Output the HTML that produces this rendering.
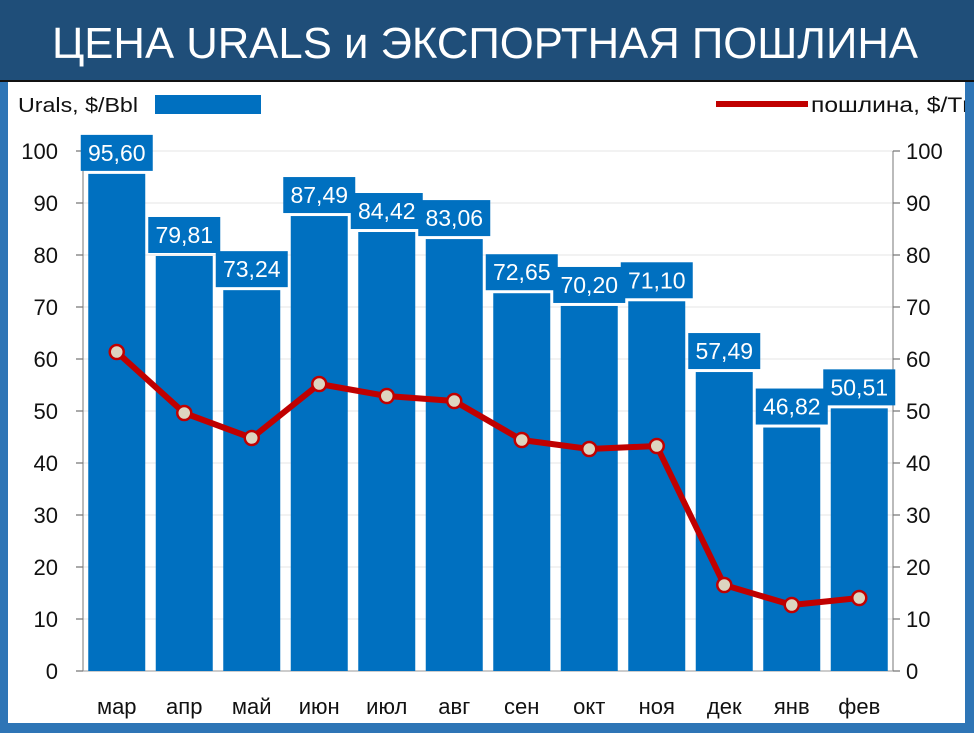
<!DOCTYPE html>
<html><head><meta charset="utf-8"><style>
html,body{margin:0;padding:0;width:974px;height:733px;overflow:hidden;background:#2e75b6}
svg{display:block;font-family:"Liberation Sans","DejaVu Sans",sans-serif}
</style></head><body>
<svg id="c" width="974" height="733" viewBox="0 0 974 733" xmlns="http://www.w3.org/2000/svg">
<rect x="0" y="0" width="974" height="733" fill="#2e75b6"/>
<rect x="0" y="0" width="974" height="81" fill="#1f4e79"/>
<rect x="0" y="80" width="974" height="2" fill="#111"/>
<rect x="8" y="82" width="957" height="641" fill="#fff"/>
<text x="485" y="58" fill="#fff" font-size="44" text-anchor="middle" textLength="866" lengthAdjust="spacingAndGlyphs">ЦЕНА URALS и ЭКСПОРТНАЯ ПОШЛИНА</text>
<text x="18" y="112" font-size="20" fill="#111" textLength="120" lengthAdjust="spacingAndGlyphs">Urals, $/Bbl</text>
<rect x="155" y="95" width="106" height="19" fill="#0070c0"/>
<rect x="716" y="101" width="92" height="6" fill="#c00000"/>
<text x="811" y="112" font-size="21" fill="#111" textLength="165" lengthAdjust="spacingAndGlyphs">пошлина, $/Tn</text>
<rect x="965" y="82" width="9" height="651" fill="#2e75b6"/>
<g id="g"></g>
</svg>
<script>
var g=document.getElementById('g'),s='';
function Y(v){return 671-v*5.2;}
for(var v=0;v<=100;v+=10){var y=Y(v);
 if(v>0)s+='<line x1="83" x2="893" y1="'+y+'" y2="'+y+'" stroke="#e6e6e6" stroke-width="1"/>';
 s+='<line x1="76" x2="83" y1="'+y+'" y2="'+y+'" stroke="#555"/><line x1="893" x2="900" y1="'+y+'" y2="'+y+'" stroke="#555"/>';
 s+='<text x="58" y="'+(y+8)+'" font-size="22" text-anchor="end" fill="#111">'+v+'</text>';
 s+='<text x="906" y="'+(y+8)+'" font-size="22" fill="#111">'+v+'</text>';}
s+='<line x1="83" x2="83" y1="151" y2="671" stroke="#777"/><line x1="893" x2="893" y1="151" y2="671" stroke="#777"/><line x1="83" x2="893" y1="671" y2="671" stroke="#999"/>';
var vals=[95.60,79.81,73.24,87.49,84.42,83.06,72.65,70.20,71.10,57.49,46.82,50.51];
var mon=['мар','апр','май','июн','июл','авг','сен','окт','ноя','дек','янв','фев'];
var py=[352,413,438,384,396,401,440,449,446,585,605,598];
for(var i=0;i<12;i++){var cx=83+33.75+i*67.5,t=Y(vals[i]);
 s+='<rect x="'+(cx-28.5)+'" y="'+t+'" width="57" height="'+(671-t)+'" fill="#0070c0"/>';
 s+='<text x="'+cx+'" y="714" font-size="22" text-anchor="middle" fill="#111">'+mon[i]+'</text>';}
for(var i=0;i<12;i++){var cx=83+33.75+i*67.5,t=Y(vals[i]);
 s+='<rect x="'+(cx-36)+'" y="'+(t-39)+'" width="72" height="36" fill="#0070c0"/>';
 s+='<text x="'+cx+'" y="'+(t-13)+'" font-size="23" text-anchor="middle" fill="#fff">'+vals[i].toFixed(2).replace('.',',')+'</text>';}
var p='';for(var i=0;i<12;i++){p+=(83+33.75+i*67.5)+','+py[i]+' ';}
s+='<polyline points="'+p+'" fill="none" stroke="#c00000" stroke-width="6" stroke-linejoin="round"/>';
for(var i=0;i<12;i++)s+='<circle cx="'+(83+33.75+i*67.5)+'" cy="'+py[i]+'" r="7" fill="#ddd5c0" stroke="#c00000" stroke-width="2.5"/>';
g.innerHTML=s;
</script>
</body></html>
